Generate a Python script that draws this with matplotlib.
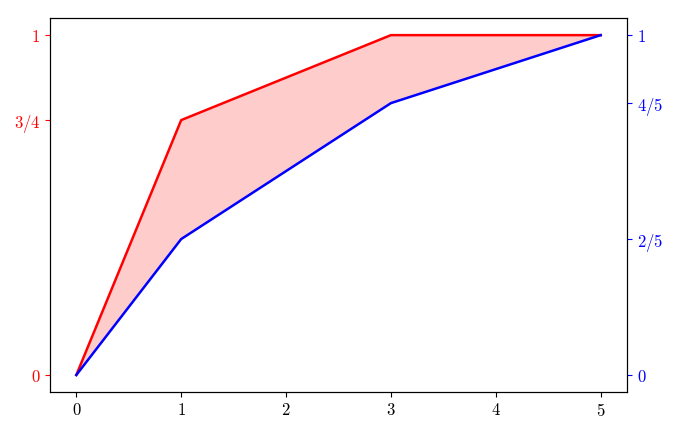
import matplotlib
matplotlib.use("Agg")
import matplotlib.pyplot as plt

plt.rcParams["mathtext.fontset"] = "cm"
plt.rcParams["font.family"] = "serif"
plt.rcParams["font.serif"] = ["cmr10", "DejaVu Serif"]
plt.rcParams["axes.formatter.use_mathtext"] = True

x = [0, 1, 3, 5]
red_y = [0, 0.75, 1, 1]
blue_y = [0, 0.4, 0.8, 1]

left_ticks = [0, 0.75, 1]
left_labels = ["$0$", "$3/4$", "$1$"]
right_ticks = [0, 0.4, 0.8, 1]
right_labels = ["$0$", "$2/5$", "$4/5$", "$1$"]
x_ticks = [0, 1, 2, 3, 4, 5]

fig = plt.figure(figsize=(6.77, 4.32), dpi=100)
ax = fig.add_axes([0.074, 0.0926, 0.852, 0.8654])

ax.fill_between(x, blue_y, red_y, color="red", alpha=0.2, linewidth=0)
ax.plot(x, red_y, color="red", linewidth=1.8)
ax.set_xticks(x_ticks)
ax.set_xticklabels(["$%d$" % t for t in x_ticks], fontsize=12)
ax.set_yticks(left_ticks)
ax.set_yticklabels(left_labels, fontsize=12)
ax.tick_params(axis="y", colors="red")

ax2 = ax.twinx()
ax2.plot(x, blue_y, color="blue", linewidth=1.8)
ax2.set_yticks(right_ticks)
ax2.set_yticklabels(right_labels, fontsize=12)
ax2.tick_params(axis="y", colors="blue")

ax.set_ylim(-0.05, 1.05)
ax2.set_ylim(-0.05, 1.05)

plt.savefig("out.png", dpi=100)
plt.close()
